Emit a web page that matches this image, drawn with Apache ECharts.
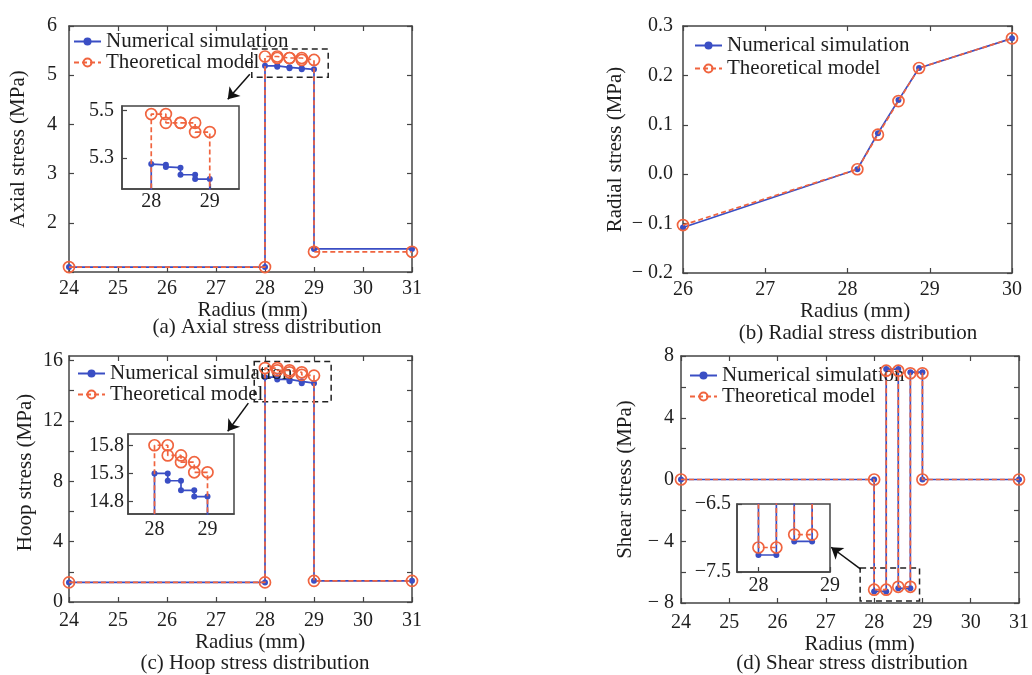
<!DOCTYPE html>
<html><head><meta charset="utf-8">
<script src="https://cdn.jsdelivr.net/npm/echarts@6/dist/echarts.min.js"></script>
<style>html,body{margin:0;padding:0;background:#fff}#chart{width:1032px;height:675px}</style>
</head><body><div id="chart"></div>
<script>
// ---------------- data ----------------
const stepRadius = [24, 28, 28, 28.25, 28.25, 28.5, 28.5, 28.75, 28.75, 29, 29, 31];
// (a) axial stress, main plot
const axialNum  = [1.10, 1.10, 5.19, 5.19, 5.17, 5.16, 5.14, 5.14, 5.12, 5.12, 1.47, 1.47];
const axialTheo = [1.10, 1.10, 5.38, 5.38, 5.35, 5.35, 5.35, 5.35, 5.31, 5.31, 1.41, 1.41];
// (a) axial stress, inset
const axialInsetNum  = [1.10, 1.10, 5.275, 5.272, 5.263, 5.26, 5.23, 5.23, 5.212, 5.212, 1.47, 1.47];
const axialInsetTheo = [1.10, 1.10, 5.486, 5.486, 5.449, 5.449, 5.449, 5.449, 5.41, 5.41, 1.41, 1.41];
// (b) radial stress
const radialRadius = [26, 28.12, 28.37, 28.62, 28.87, 30];
const radialNum  = [-0.108, 0.010, 0.083, 0.150, 0.215, 0.275];
const radialTheo = [-0.103, 0.010, 0.080, 0.148, 0.215, 0.275];
// (c) hoop stress, main plot
const hoopNum  = [1.3, 1.3, 14.9, 14.9, 14.75, 14.75, 14.62, 14.62, 14.5, 14.5, 1.4, 1.4];
const hoopTheo = [1.3, 1.3, 15.5, 15.5, 15.35, 15.35, 15.22, 15.22, 15.05, 15.0, 1.4, 1.4];
// (c) hoop stress, inset
const hoopInsetNum  = [1.3, 1.3, 15.3, 15.3, 15.17, 15.17, 15.0, 15.0, 14.89, 14.89, 1.4, 1.4];
const hoopInsetTheo = [1.3, 1.3, 15.8, 15.8, 15.62, 15.62, 15.5, 15.5, 15.32, 15.32, 1.4, 1.4];
// (d) shear stress (main + inset)
const shearNum  = [0, 0, -7.25, -7.25, 7.15, 7.15, -7.05, -7.05, 6.95, 6.95, 0, 0];
const shearTheo = [0, 0, -7.14, -7.14, 7.05, 7.05, -6.95, -6.95, 6.88, 6.88, 0, 0];
// tick values
const hoopYTicks = [0, 2, 4, 6, 8, 10, 12, 14, 16];
const hoopYLabels = [0, 4, 8, 12, 16];
const axialInsetYTicks = [5.3, 5.5];
const hoopInsetYTicks = [14.8, 15.3, 15.8];
const shearInsetYTicks = [-7.5, -6.5];
const insetXTicks = [28, 29];
const seriesNames = ['Numerical simulation', 'Theoretical model'];
const captions = ['(a) Axial stress distribution', '(b) Radial stress distribution', '(c) Hoop stress distribution', '(d) Shear stress distribution'];

// ---------------- styling ----------------
const BLUE = '#3a4ec4', RED = '#f0643f', AX = '#444', TXT = '#1e1e1e', FONT = 'Liberation Serif';
const pairs = (xs, ys) => xs.map((x, i) => [x, ys[i]]);

const grids = [], xAxes = [], yAxes = [], series = [], legends = [], graphics = [];

function axisBase(gi) {
  return {type: 'value', gridIndex: gi, splitLine: {show: false},
    axisLine: {show: true, onZero: false, lineStyle: {color: AX, width: 1.5}},
    axisTick: {show: true, inside: true, length: 5, lineStyle: {color: AX, width: 1.2}},
    axisLabel: {fontSize: 20, color: TXT, fontFamily: FONT}};
}
function merge(a, b) {
  const o = Object.assign({}, a);
  for (const k in b) {
    if (b[k] && typeof b[k] === 'object' && !Array.isArray(b[k]) && a[k] && typeof a[k] === 'object') o[k] = merge(a[k], b[k]);
    else o[k] = b[k];
  }
  return o;
}
function addPanel(p) {
  const gi = grids.length;
  grids.push({left: p.box[0], top: p.box[1], width: p.box[2], height: p.box[3],
    show: !!p.inset, borderColor: AX, borderWidth: 1.5, backgroundColor: p.inset ? '#fff' : 'transparent'});
  const xi = xAxes.length, yi = yAxes.length;
  xAxes.push(merge(axisBase(gi), merge({position: 'bottom'}, p.x)));
  yAxes.push(merge(axisBase(gi), merge({position: 'left'}, p.y)));
  if (!p.inset) {
    const xm = merge(axisBase(gi), merge({position: 'top'}, p.x));
    xm.name = ''; xm.axisLabel = {show: false};
    xAxes.push(xm);
    const ym = merge(axisBase(gi), merge({position: 'right'}, p.y));
    ym.name = ''; ym.axisLabel = {show: false};
    yAxes.push(ym);
  }
  return {xi, yi};
}
function addLines(ix, xs, numY, theoY, extra) {
  series.push(Object.assign({type: 'line', name: seriesNames[0], xAxisIndex: ix.xi, yAxisIndex: ix.yi,
    data: pairs(xs, numY), symbol: 'circle', symbolSize: 6, showAllSymbol: true, clip: true,
    lineStyle: {color: BLUE, width: 1.7}, itemStyle: {color: BLUE}, z: 3}, extra || {}));
  series.push({type: 'line', name: seriesNames[1], xAxisIndex: ix.xi, yAxisIndex: ix.yi,
    data: pairs(xs, theoY), symbol: 'circle', symbolSize: 11, showAllSymbol: true, clip: true,
    lineStyle: {color: RED, width: 1.7, type: [5, 3]},
    itemStyle: {color: 'rgba(255,255,255,0)', borderColor: RED, borderWidth: 1.7}, z: 4});
}
function zoomMarks(box, arrow) {
  return {
    markArea: {silent: true, data: [[{coord: [box[0], box[1]]}, {coord: [box[2], box[3]]}]],
      itemStyle: {color: 'rgba(0,0,0,0)', borderColor: '#222', borderWidth: 1.5, borderType: [6, 4]}, label: {show: false}},
    markLine: {silent: true, symbol: ['none', 'arrow'], symbolSize: 11, label: {show: false},
      lineStyle: {color: '#111', width: 1.5, type: 'solid'}, emphasis: {disabled: true},
      data: [[{coord: [arrow[0], arrow[1]]}, {coord: [arrow[2], arrow[3]]}]]}
  };
}
function addLegend(left, top, gap) {
  legends.push({left, top, orient: 'vertical', padding: 0, itemGap: gap, itemWidth: 27, itemHeight: 10,
    selectedMode: false, data: seriesNames,
    textStyle: {fontSize: 21, fontFamily: FONT, color: TXT, lineHeight: 17}});
}
const nameStyle = (pad) => ({fontSize: 21, fontFamily: FONT, color: TXT, padding: pad});

// ---- (a) axial ----
const pa = addPanel({box: [69, 26, 343, 246],
  x: {min: 24, max: 31, interval: 1, name: 'Radius (mm)', nameLocation: 'middle', nameGap: 28, nameTextStyle: nameStyle([0, 0, 0, 24]), axisLabel: {margin: 7}},
  y: {min: 1, max: 6, interval: 1, name: 'Axial stress (MPa)', nameLocation: 'middle', nameGap: 40, nameTextStyle: nameStyle(0),
      axisLabel: {margin: 12, formatter: v => v === 1 ? '' : String(v)}}});
addLines(pa, stepRadius, axialNum, axialTheo, zoomMarks([27.73, 5.53, 29.29, 4.96], [27.69, 5.02, 27.24, 4.51]));
addLegend(73, 31, 0);
const pai = addPanel({inset: true, box: [122, 106, 117, 83],
  x: {min: 27.5, max: 29.5, axisLabel: {margin: 3, customValues: insetXTicks}, axisTick: {customValues: insetXTicks}},
  y: {min: 5.17, max: 5.52, axisLabel: {margin: 8, customValues: axialInsetYTicks, formatter: v => v.toFixed(1)}, axisTick: {customValues: axialInsetYTicks}}});
addLines(pai, stepRadius, axialInsetNum, axialInsetTheo);

// ---- (b) radial ----
const pb = addPanel({box: [683, 26, 329, 247],
  x: {min: 26, max: 30, interval: 1, name: 'Radius (mm)', nameLocation: 'middle', nameGap: 27, nameTextStyle: nameStyle([0, 0, 0, 15]), axisLabel: {margin: 7}},
  y: {min: -0.2, max: 0.3, interval: 0.1, name: 'Radial stress (MPa)', nameLocation: 'middle', nameGap: 57, nameTextStyle: nameStyle(0),
      axisLabel: {margin: 10, formatter: v => Math.abs(v) < 1e-9 ? '0.0' : (v < 0 ? '\u2212 ' + Math.abs(v).toFixed(1) : v.toFixed(1))}}});
addLines(pb, radialRadius, radialNum, radialTheo);
addLegend(694, 35, 2);

// ---- (c) hoop ----
const pc = addPanel({box: [69, 356, 343, 246],
  x: {min: 24, max: 31, interval: 1, name: 'Radius (mm)', nameLocation: 'middle', nameGap: 28, nameTextStyle: nameStyle([0, 0, 0, 19]), axisLabel: {margin: 9}},
  y: {min: 0, max: 16.3, name: 'Hoop stress (MPa)', nameLocation: 'middle', nameGap: 33, nameTextStyle: nameStyle([0, 0, 0, 13]),
      axisLabel: {margin: 6, customValues: hoopYLabels}, axisTick: {customValues: hoopYTicks}}});
addLines(pc, stepRadius, hoopNum, hoopTheo, zoomMarks([27.78, 15.93, 29.35, 13.27], [27.66, 13.18, 27.24, 11.31]));
addLegend(77, 363, 0);
const pci = addPanel({inset: true, box: [128, 434, 106, 80],
  x: {min: 27.5, max: 29.5, axisLabel: {margin: 6, customValues: insetXTicks}, axisTick: {customValues: insetXTicks}},
  y: {min: 14.58, max: 16.0, axisLabel: {margin: 4, customValues: hoopInsetYTicks, formatter: v => v.toFixed(1)}, axisTick: {customValues: hoopInsetYTicks}}});
addLines(pci, stepRadius, hoopInsetNum, hoopInsetTheo);

// ---- (d) shear ----
const pd = addPanel({box: [681, 356, 343, 247],
  x: {min: 24, max: 31, interval: 1, name: 'Radius (mm)', nameLocation: 'middle', nameGap: 29, nameTextStyle: nameStyle([0, 0, 0, 19]), axisLabel: {margin: 10}},
  y: {min: -8, max: 8, interval: 2, name: 'Shear stress (MPa)', nameLocation: 'middle', nameGap: 45, nameTextStyle: nameStyle(0),
      axisLabel: {margin: 7, formatter: v => (Math.round(v) % 4 !== 0) ? '' : (v < 0 ? '\u2212 ' + (-v) : String(v))}}});
addLines(pd, stepRadius, shearNum, shearTheo, zoomMarks([27.71, -5.73, 28.94, -7.87], [27.72, -5.81, 27.11, -4.39]));
addLegend(689, 365, 0);
const pdi = addPanel({inset: true, box: [737, 504, 93, 68],
  x: {min: 27.7, max: 29, axisLabel: {margin: 4, customValues: insetXTicks}, axisTick: {customValues: insetXTicks}},
  y: {min: -7.5, max: -6.5, axisLabel: {margin: 6, customValues: shearInsetYTicks, formatter: v => '\u2212' + Math.abs(v).toFixed(1)}, axisTick: {customValues: shearInsetYTicks}}});
addLines(pdi, stepRadius, shearNum, shearTheo);

// ---- captions ----
const capPos = [[267, 327], [858, 333], [255, 663], [852, 663]];
captions.forEach((t, i) => graphics.push({type: 'text', x: capPos[i][0], y: capPos[i][1], silent: true,
  style: {text: t, align: 'center', verticalAlign: 'middle', font: '21px "Liberation Serif"', fill: TXT}}));

const chart = echarts.init(document.getElementById('chart'), null, {renderer: 'canvas'});
chart.setOption({
  animation: false,
  backgroundColor: '#fff',
  textStyle: {fontFamily: FONT},
  grid: grids, xAxis: xAxes, yAxis: yAxes, series: series, legend: legends, graphic: graphics
});
</script></body></html>
